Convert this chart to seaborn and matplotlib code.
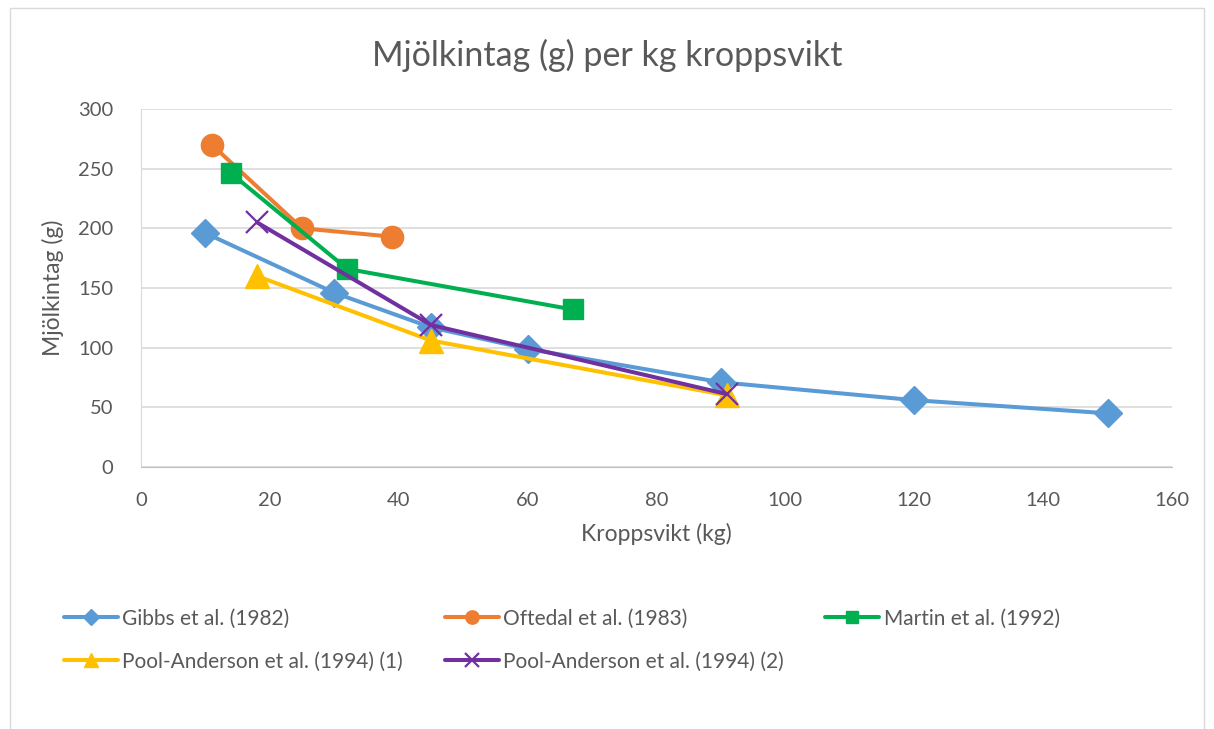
import matplotlib
matplotlib.use('Agg')
import matplotlib.pyplot as plt
import seaborn as sns
from matplotlib.patches import Rectangle

# data
gibbs_x = [10, 30, 45, 60, 90, 120, 150]
gibbs_y = [196, 146, 117, 99, 71, 56, 45]
oftedal_x = [11, 25, 39]
oftedal_y = [270, 200, 193]
martin_x = [14, 32, 67]
martin_y = [246, 166, 132]
pool1_x = [18, 45, 91]
pool1_y = [160, 106, 60]
pool2_x = [18, 45, 91]
pool2_y = [205, 119, 61]

series = [
    ('Gibbs et al. (1982)', gibbs_x, gibbs_y, '#5b9bd5', 'D', 14),
    ('Pool-Anderson et al. (1994) (1)', pool1_x, pool1_y, '#ffc000', '^', 17),
    ('Oftedal et al. (1983)', oftedal_x, oftedal_y, '#ed7d31', 'o', 16),
    ('Pool-Anderson et al. (1994) (2)', pool2_x, pool2_y, '#7030a0', 'x', 16),
    ('Martin et al. (1992)', martin_x, martin_y, '#00b050', 's', 15),
]
draw_order = [0, 2, 4, 1, 3]

sns.set_style('white')
plt.rcParams['font.family'] = ['Lato', 'DejaVu Sans']
txt = '#595959'

fig = plt.figure(figsize=(12.14, 7.29), dpi=100)
ax = fig.add_axes([141 / 1214, 1 - 467 / 729, (1172 - 141) / 1214, (467 - 109) / 729])

handles = {}
for i in draw_order:
    name, xs, ys, col, mk, ms = series[i]
    sns.lineplot(x=xs, y=ys, ax=ax, color=col, linewidth=2.9, marker=mk,
                 markersize=ms, markeredgecolor=col, markeredgewidth=1.6 if mk == 'x' else 1,
                 label=name, legend=False, sort=False)
    handles[i] = ax.lines[-1]

ax.set_xlim(0, 160)
ax.set_ylim(0, 300)
ax.set_xticks(range(0, 161, 20))
ax.set_yticks(range(0, 301, 50))
ax.yaxis.grid(True, color='#d9d9d9', linewidth=1.2)
ax.xaxis.grid(False)
ax.set_axisbelow(True)
for s in ['top', 'right']:
    ax.spines[s].set_visible(False)
ax.spines['left'].set_color('#d9d9d9')
ax.spines['bottom'].set_color('#bfbfbf')
ax.tick_params(axis='x', length=0, labelsize=14.5, colors=txt, pad=18)
ax.tick_params(axis='y', length=0, labelsize=14.5, colors=txt, pad=20)
ax.set_xlabel('Kroppsvikt (kg)', fontsize=16.5, color=txt, labelpad=10)
ax.set_ylabel('Mjölkintag (g)', fontsize=16.5, color=txt, labelpad=10)

fig.text(0.5, 1 - 55 / 729, 'Mjölkintag (g) per kg kroppsvikt', ha='center', va='center',
         fontsize=24.5, color=txt)

leg = fig.legend([handles[i] for i in range(5)], [s[0] for s in series], ncol=3,
                 loc='upper left', bbox_to_anchor=(45 / 1214, 1 - 590 / 729),
                 frameon=False, fontsize=15, labelcolor=txt, handlelength=2.6,
                 handletextpad=0.2, columnspacing=2.0, labelspacing=1.1, markerscale=0.6)

fig.patches.append(Rectangle((10 / 1214, -0.01), 1194 / 1214, 1 - 8 / 729 + 0.01,
                             transform=fig.transFigure, fill=False,
                             edgecolor='#d9d9d9', linewidth=1))

fig.savefig('out.png', dpi=100)
